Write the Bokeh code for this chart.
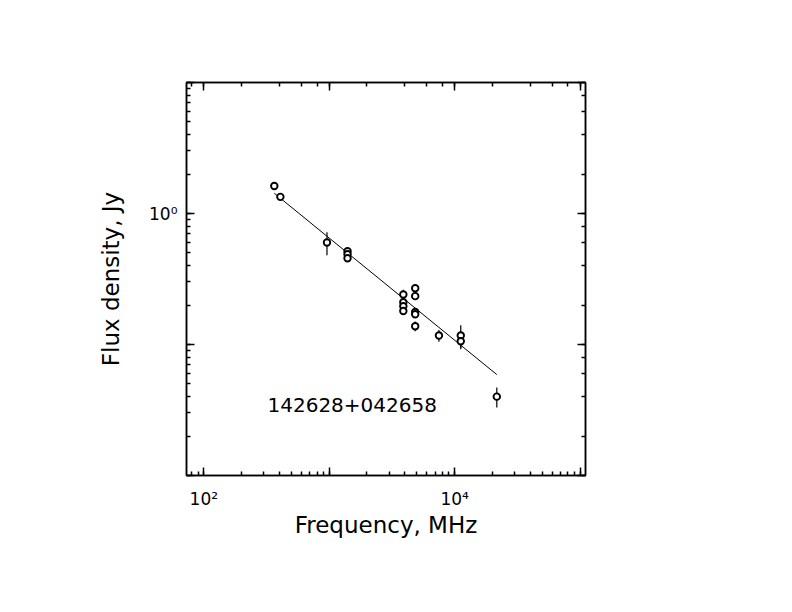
from bokeh.plotting import figure
from bokeh.models import Range1d, LogAxis, Label, CustomJSTickFormatter
from bokeh.embed import file_html
from bokeh.resources import INLINE
import numpy as np

# ---- data ----
freq_mhz = [365, 408, 960, 1400, 1400, 1400, 3900, 3900, 3900, 3900,
            4850, 4850, 4850, 4850, 4850, 7500, 11200, 11200, 21700]
flux_jy = [1.62, 1.34, 0.60, 0.515, 0.489, 0.456, 0.241, 0.210, 0.196, 0.180,
           0.269, 0.234, 0.177, 0.170, 0.138, 0.117, 0.117, 0.106, 0.040]
flux_err = [0.03, 0.03, 0.12, 0.02, 0.015, 0.015, 0.021, 0.008, 0.008, 0.008,
            0.008, 0.008, 0.008, 0.008, 0.012, 0.012, 0.023, 0.014, 0.007]

# power-law fit S = S1 * (f / 1 GHz)^alpha
fit_s1ghz = 0.65
fit_alpha = -0.78

source_name = "142628+042658"
x_label = "Frequency, MHz"
y_label = "Flux density, Jy"
x_tick_exps = [2, 4]
x_tick_labels = ["10\u00b2", "10\u2074"]
y_tick_exps = [0]
y_tick_labels = ["10\u2070"]

FONT = "DejaVu Sans"

f = np.array(freq_mhz, dtype=float)
s = np.array(flux_jy, dtype=float)
e = np.array(flux_err, dtype=float)

p = figure(width=776, height=596, x_axis_type="log", y_axis_type="log",
           x_range=Range1d(72.8, 110600), y_range=Range1d(0.01, 10),
           output_backend="svg", toolbar_location=None,
           min_border_left=186, min_border_right=191,
           min_border_top=82, min_border_bottom=121)
p.background_fill_color = "white"
p.border_fill_color = "white"
p.grid.visible = False
p.outline_line_color = "black"
p.outline_line_width = 1.5

p.add_layout(LogAxis(), "right")
p.add_layout(LogAxis(), "above")

bottom = p.below[0]
left = p.left[0]

fmt_code = "const e = Math.round(Math.log10(tick)); const i = exps.indexOf(e); return i >= 0 ? labs[i] : '';"
bottom.formatter = CustomJSTickFormatter(args=dict(exps=x_tick_exps, labs=x_tick_labels), code=fmt_code)
left.formatter = CustomJSTickFormatter(args=dict(exps=y_tick_exps, labs=y_tick_labels), code=fmt_code)

for ax in p.axis:
    ax.major_tick_in = 8
    ax.major_tick_out = 0
    ax.minor_tick_in = 4
    ax.minor_tick_out = 0
    ax.major_tick_line_width = 1.5
    ax.minor_tick_line_width = 1.5
    ax.axis_line_width = 1.5
    ax.major_tick_line_color = "black"
    ax.minor_tick_line_color = "black"
    ax.axis_line_color = "black"
    ax.major_label_text_font = FONT
    ax.major_label_text_color = "black"
    ax.major_label_text_font_size = "17px"

for ax in (p.right[0], p.above[0]):
    ax.major_label_text_font_size = "0px"
    ax.major_label_text_alpha = 0

bottom.axis_label = x_label
left.axis_label = y_label
for ax in (bottom, left):
    ax.axis_label_text_font = FONT
    ax.axis_label_text_font_style = "normal"
    ax.axis_label_text_font_size = "23px"
    ax.axis_label_text_color = "black"
bottom.major_label_standoff = 13
bottom.axis_label_standoff = 0
left.major_label_standoff = 9
left.axis_label_standoff = 22

# fit line over the range of data frequencies
fl = np.array([f.min(), f.max()])
p.line(fl, fit_s1ghz * (fl / 1000.0) ** fit_alpha, line_color="black", line_width=1)

# error bars
p.segment(x0=f, y0=s - e, x1=f, y1=s + e, line_color="black", line_width=1.2)

# points
p.scatter(f, s, marker="circle", size=6.5, fill_color="white",
          line_color="black", line_width=1.9)

p.add_layout(Label(x=322, y=0.0344, text=source_name, text_font=FONT,
                   text_font_size="20px", text_color="black",
                   text_baseline="middle", text_align="left"))

with open("out.html", "w", encoding="utf-8") as fh:
    fh.write(file_html(p, INLINE))
